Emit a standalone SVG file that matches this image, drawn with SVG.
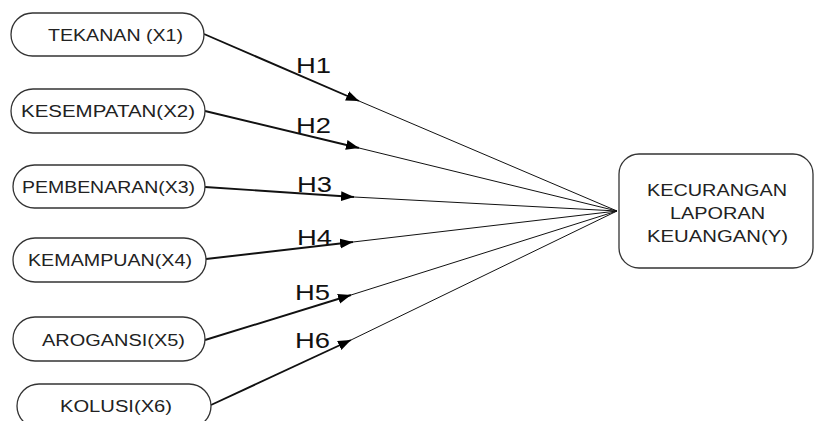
<svg xmlns="http://www.w3.org/2000/svg" width="814" height="421" viewBox="0 0 814 421">
<style>
.box{fill:#fff;stroke:#333;stroke-width:1.3}
.t{font-family:"Liberation Sans",Arial,sans-serif;font-size:16px;fill:#222;text-anchor:start}
.h{font-family:"Liberation Sans",Arial,sans-serif;font-size:22px;fill:#111}
.thick{stroke:#111;stroke-width:1.9;fill:none}
.thin{stroke:#111;stroke-width:1;fill:none}
</style>
<defs>
<marker id="arr" markerUnits="userSpaceOnUse" markerWidth="14" markerHeight="11" refX="13" refY="5" orient="auto">
<path d="M0,0 L13,5 L0,10 z" fill="#000"/>
</marker>
</defs>
<rect width="814" height="421" fill="#fff"/>
<g id="connectors">
<path class="thick" d="M204,34 L359,101" marker-end="url(#arr)"/>
<path class="thin" d="M359,101 L617,211"/>
<path class="thick" d="M205,111 L359,148" marker-end="url(#arr)"/>
<path class="thin" d="M359,148 L617,211"/>
<path class="thick" d="M205,187 L354,197" marker-end="url(#arr)"/>
<path class="thin" d="M354,197 L617,211"/>
<path class="thick" d="M206,259 L353,242" marker-end="url(#arr)"/>
<path class="thin" d="M353,242 L617,211"/>
<path class="thick" d="M205,340 L351,295" marker-end="url(#arr)"/>
<path class="thin" d="M351,295 L617,211"/>
<path class="thick" d="M211,405 L351,340" marker-end="url(#arr)"/>
<path class="thin" d="M351,340 L617,211"/>
<text class="h" x="296" y="73" textLength="35" lengthAdjust="spacingAndGlyphs">H1</text>
<text class="h" x="296" y="133" textLength="35" lengthAdjust="spacingAndGlyphs">H2</text>
<text class="h" x="297" y="192" textLength="35" lengthAdjust="spacingAndGlyphs">H3</text>
<text class="h" x="297" y="245" textLength="35" lengthAdjust="spacingAndGlyphs">H4</text>
<text class="h" x="295" y="300" textLength="35" lengthAdjust="spacingAndGlyphs">H5</text>
<text class="h" x="295" y="348" textLength="35" lengthAdjust="spacingAndGlyphs">H6</text>
</g>
<g id="x1">
<rect class="box" x="11" y="13" width="193" height="43" rx="21.5"/>
<text class="t" x="48" y="41" textLength="135" lengthAdjust="spacingAndGlyphs">TEKANAN (X1)</text>
</g>
<g id="x2">
<rect class="box" x="11" y="89" width="194" height="44" rx="22"/>
<text class="t" x="21" y="117" textLength="174" lengthAdjust="spacingAndGlyphs">KESEMPATAN(X2)</text>
</g>
<g id="x3">
<rect class="box" x="13" y="165" width="192" height="43" rx="21.5"/>
<text class="t" x="22" y="193" textLength="173" lengthAdjust="spacingAndGlyphs">PEMBENARAN(X3)</text>
</g>
<g id="x4">
<rect class="box" x="13" y="238" width="193" height="44" rx="22"/>
<text class="t" x="28" y="266" textLength="164" lengthAdjust="spacingAndGlyphs">KEMAMPUAN(X4)</text>
</g>
<g id="x5">
<rect class="box" x="13" y="317" width="192" height="44" rx="22"/>
<text class="t" x="42" y="346" textLength="143" lengthAdjust="spacingAndGlyphs">AROGANSI(X5)</text>
</g>
<g id="x6">
<rect class="box" x="17" y="384" width="194" height="44" rx="22"/>
<text class="t" x="60" y="412" textLength="112" lengthAdjust="spacingAndGlyphs">KOLUSI(X6)</text>
</g>
<g id="y">
<rect class="box" x="619" y="154" width="194" height="114" rx="20"/>
<text class="t" x="647" y="196" textLength="140" lengthAdjust="spacingAndGlyphs">KECURANGAN</text>
<text class="t" x="670" y="219" textLength="95" lengthAdjust="spacingAndGlyphs">LAPORAN</text>
<text class="t" x="647" y="242" textLength="141" lengthAdjust="spacingAndGlyphs">KEUANGAN(Y)</text>
</g>
</svg>
